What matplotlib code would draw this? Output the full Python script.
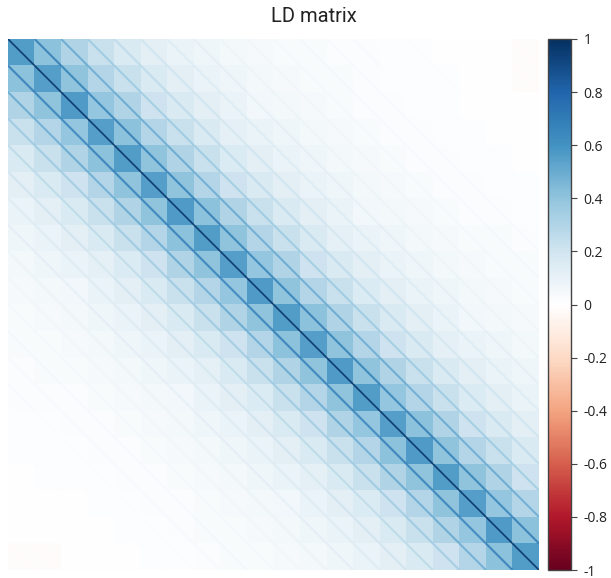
import numpy as np
import matplotlib
matplotlib.use("Agg")
import matplotlib.pyplot as plt
from matplotlib.colors import Normalize, LinearSegmentedColormap
from matplotlib.ticker import FixedLocator, FuncFormatter

# Upper triangle of the LD (r) matrix, row by row starting at the diagonal
ld_upper = [
    [0.56, 0.41, 0.30, 0.22, 0.16, 0.12, 0.09, 0.07, 0.05, 0.04, 0.03, 0.03, 0.02, 0.02, 0.01, 0.01, 0.00, 0.00, 0.00, -0.01],
    [0.55, 0.40, 0.29, 0.22, 0.16, 0.12, 0.09, 0.07, 0.05, 0.04, 0.03, 0.03, 0.02, 0.01, 0.01, 0.01, 0.00, 0.00, -0.01],
    [0.57, 0.39, 0.30, 0.21, 0.16, 0.12, 0.09, 0.06, 0.05, 0.04, 0.03, 0.02, 0.02, 0.01, 0.01, 0.00, 0.00, 0.00],
    [0.55, 0.41, 0.29, 0.22, 0.16, 0.11, 0.09, 0.07, 0.05, 0.04, 0.03, 0.02, 0.02, 0.01, 0.01, 0.00, 0.00],
    [0.56, 0.40, 0.30, 0.22, 0.15, 0.12, 0.09, 0.07, 0.05, 0.04, 0.03, 0.02, 0.02, 0.01, 0.01, 0.00],
    [0.55, 0.40, 0.29, 0.21, 0.16, 0.12, 0.09, 0.07, 0.05, 0.04, 0.03, 0.02, 0.02, 0.01, 0.01],
    [0.57, 0.41, 0.30, 0.22, 0.16, 0.12, 0.09, 0.06, 0.05, 0.04, 0.03, 0.02, 0.02, 0.01],
    [0.56, 0.40, 0.29, 0.22, 0.16, 0.11, 0.09, 0.07, 0.05, 0.04, 0.03, 0.03, 0.02],
    [0.55, 0.39, 0.30, 0.21, 0.16, 0.12, 0.09, 0.07, 0.05, 0.04, 0.03, 0.03],
    [0.57, 0.40, 0.29, 0.22, 0.15, 0.12, 0.09, 0.07, 0.05, 0.04, 0.03],
    [0.56, 0.41, 0.30, 0.22, 0.16, 0.12, 0.09, 0.06, 0.05, 0.04],
    [0.55, 0.40, 0.29, 0.21, 0.16, 0.11, 0.09, 0.07, 0.05],
    [0.57, 0.40, 0.30, 0.22, 0.16, 0.12, 0.09, 0.07],
    [0.56, 0.39, 0.29, 0.22, 0.15, 0.12, 0.09],
    [0.55, 0.41, 0.30, 0.21, 0.16, 0.12],
    [0.57, 0.40, 0.29, 0.22, 0.16],
    [0.56, 0.40, 0.30, 0.21],
    [0.55, 0.39, 0.29],
    [0.57, 0.41],
    [0.56],
]
cbar_ticks = [-1, -0.8, -0.6, -0.4, -0.2, 0, 0.2, 0.4, 0.6, 0.8, 1]
title = "LD matrix"

n = len(ld_upper)
ld = np.zeros((n, n))
for i, row in enumerate(ld_upper):
    ld[i, i:] = row
    ld[i:, i] = row

# red-white-blue diverging scale, white at zero
rdbu_colors = ["#67001f", "#b2182b", "#d6604d", "#f4a582", "#fddbc7", "#ffffff",
               "#d1e5f0", "#92c5de", "#4393c3", "#2166ac", "#053061"]
cmap = LinearSegmentedColormap.from_list("rdbu_white", rdbu_colors)
norm = Normalize(vmin=-1, vmax=1)

W, H = 611, 578
fig = plt.figure(figsize=(W / 100, H / 100), dpi=100)
ax = fig.add_axes([8 / W, (H - 570) / H, 531 / W, 531 / H])
ax.imshow(ld, cmap=cmap, norm=norm, interpolation="nearest", aspect="auto",
          extent=(-0.5, n - 0.5, n - 0.5, -0.5))

# diagonal seam inside every cell, drawn a little darker than the cell
for i in range(n):
    for j in range(n):
        v = ld[i, j]
        if i == j:
            c, lw, a = cmap(norm(0.98)), 1.2, 0.9
        else:
            c, lw, a = cmap(norm(np.clip(v * 1.7, -1, 1))), 1.5, 0.85
        ax.plot([j - 0.5, j + 0.5], [i - 0.5, i + 0.5], color=c, lw=lw,
                solid_capstyle="butt", alpha=a)
ax.set_xlim(-0.5, n - 0.5)
ax.set_ylim(n - 0.5, -0.5)
ax.axis("off")

fig.text(314 / W, 1 - 17 / H, title, ha="center", va="center",
         fontsize=14.5, family="Roboto", color="#222222")

cax = fig.add_axes([548 / W, (H - 570) / H, 23 / W, 531 / H])
sm = plt.cm.ScalarMappable(norm=norm, cmap=cmap)
cb = fig.colorbar(sm, cax=cax)
cb.outline.set_edgecolor("#444444")
cb.outline.set_linewidth(1.0)
cb.ax.yaxis.set_major_locator(FixedLocator(cbar_ticks))
cb.ax.yaxis.set_major_formatter(FuncFormatter(lambda x, p: f"{x:g}".replace("\u2212", "-")))
cb.ax.tick_params(axis="y", length=4, width=0.8, color="#444444", pad=5,
                  labelsize=10, labelcolor="#222222")
for lab in cb.ax.get_yticklabels():
    lab.set_family(["Open Sans", "DejaVu Sans"])

fig.savefig("out.png", dpi=100)
